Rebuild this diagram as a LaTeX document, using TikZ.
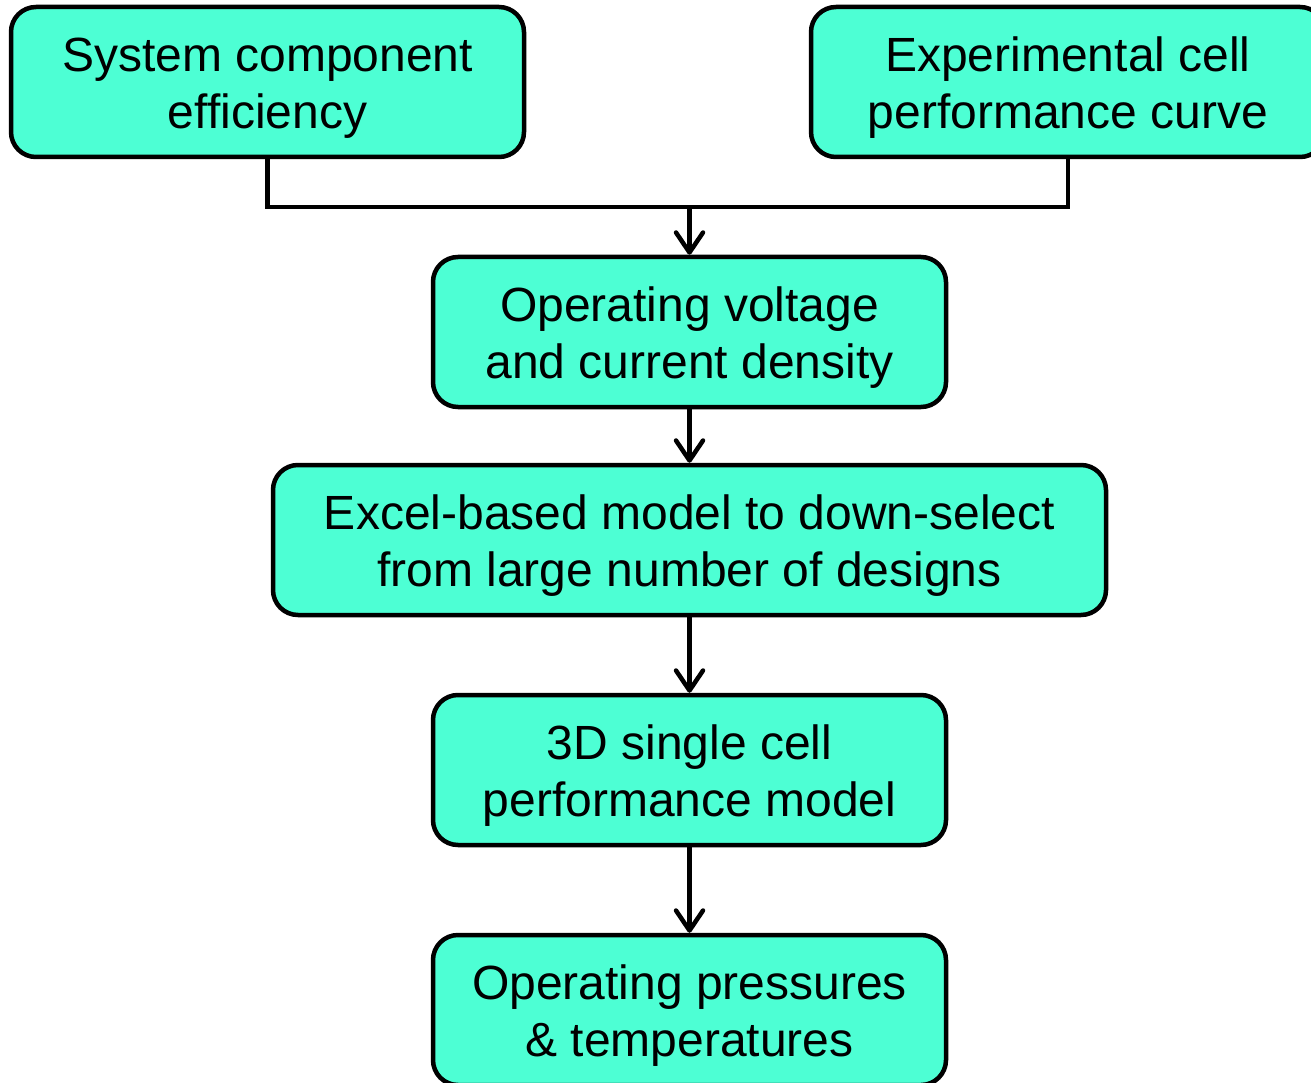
\documentclass[tikz,border=0pt]{standalone}
\usepackage{fontspec}
\setmainfont{Liberation Sans}
\usetikzlibrary{arrows.meta}
\definecolor{boxfill}{HTML}{4DFFD4}
\begin{document}
\begin{tikzpicture}[x=1pt,y=-1pt,
  box/.style={draw=black, fill=boxfill, line width=4.5pt, rounded corners=25pt,
    minimum height=150pt, inner sep=0pt},
  boxtext/.style={align=center, inner sep=0pt, yshift=-6pt,
    font=\fontsize{48}{57}\selectfont},
  conn/.style={line width=4.5pt},
  arr/.style={conn, -{Straight Barb[length=20pt,width=27pt,line cap=round,line join=round]}}]
\useasboundingbox (0,0) rectangle (1311,1083);
\node[box, minimum width=513pt] (a) at (267.5,82) {};
\node[box, minimum width=514pt] (b) at (1068,82) {};
\node[box, minimum width=513pt] (c) at (689.5,332) {};
\node[box, minimum width=833pt] (d) at (689.5,540) {};
\node[box, minimum width=513pt] (e) at (689.5,770) {};
\node[box, minimum width=513pt] (f) at (689.5,1010) {};
\node[boxtext] (at) at (a) {System component\\efficiency};
\node[boxtext] (bt) at (b) {Experimental cell\\performance curve};
\node[boxtext] (ct) at (c) {Operating voltage\\and current density};
\node[boxtext] (dt) at (d) {Excel-based model to down-select\\from large number of designs};
\node[boxtext] (et) at (e) {3D single cell\\performance model};
\node[boxtext] (ft) at (f) {Operating pressures\\\& temperatures};
\coordinate (j) at (689.5,207);
\draw[conn] (a.south) |- (j) -| (b.south);
\draw[arr] (j) -- (c.north);
\draw[arr] (c) -- (d);
\draw[arr] (d) -- (e);
\draw[arr] (e) -- (f);
\end{tikzpicture}
\end{document}
